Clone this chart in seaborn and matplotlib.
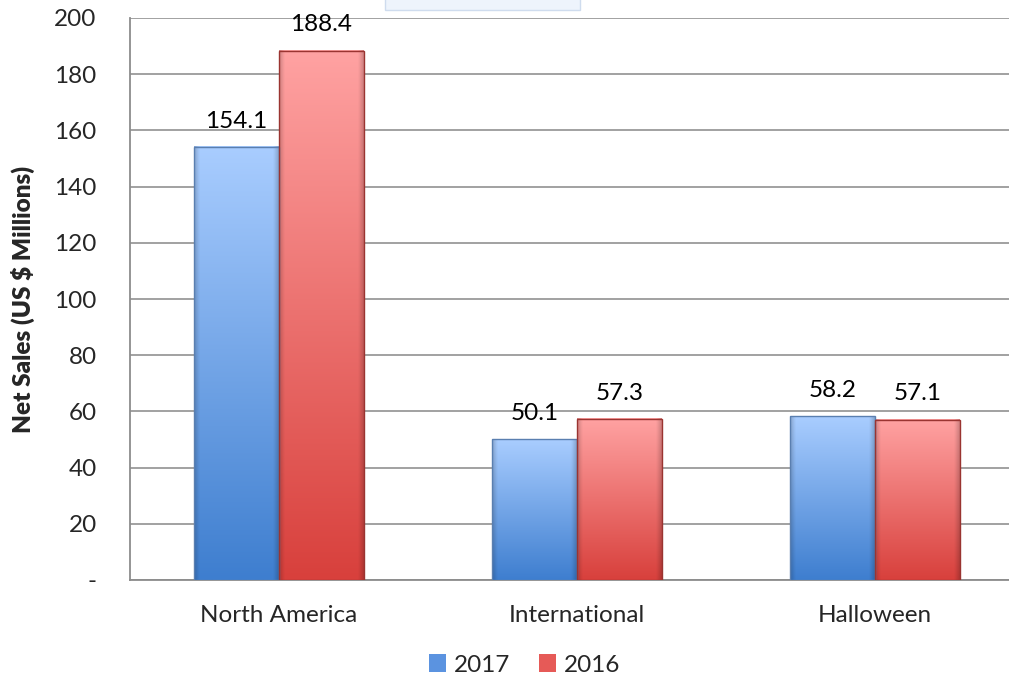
import numpy as np
import pandas as pd
import matplotlib
matplotlib.use("Agg")
import matplotlib.pyplot as plt
import seaborn as sns
from matplotlib.patches import Rectangle
from matplotlib.ticker import FuncFormatter, MultipleLocator

categories = ["North America", "International", "Halloween"]
years = ["2017", "2016"]
sales_2017 = [154.1, 50.1, 58.2]
sales_2016 = [188.4, 57.3, 57.1]

df = pd.DataFrame({
    "Segment": categories * 2,
    "Year": [years[0]] * 3 + [years[1]] * 3,
    "Sales": sales_2017 + sales_2016,
})

sns.set_theme(style="white")
plt.rcParams["font.family"] = ["Lato", "DejaVu Sans"]
FS = 17.5

fig = plt.figure(figsize=(10.09, 6.84), dpi=100)
ax = fig.add_axes([130 / 1009, 1 - 580 / 684, 894 / 1009, 562 / 684])

palette = {"2017": "#5b93e0", "2016": "#e65a57"}
sns.barplot(data=df, x="Segment", y="Sales", hue="Year", hue_order=years,
            order=categories, palette=palette, width=0.57, ax=ax,
            edgecolor="none", linewidth=0, legend=True, zorder=3)

grad_colors = {
    "2017": ("#a9cdff", "#3e7ecf", "#5a7fb0"),
    "2016": ("#ffa2a2", "#d8403c", "#9a3431"),
}

bars = [p for p in ax.patches if p.get_height() > 0]
nb = len(categories)
for i, p in enumerate(bars):
    yr = years[i // nb]
    top_c, bot_c, edge_c = grad_colors[yr]
    x0, w, h = p.get_x(), p.get_width(), p.get_height()
    t = np.array(matplotlib.colors.to_rgb(top_c))
    b = np.array(matplotlib.colors.to_rgb(bot_c))
    ny, nx = 200, 60
    v = np.linspace(0, 1, ny)[:, None, None]
    img = t * (1 - v) + b * v
    img = np.repeat(img, nx, axis=1)
    xs = np.linspace(0, 1, nx)
    edge = np.clip(1 - np.minimum(xs, 1 - xs) / 0.06, 0, 1)[None, :, None]
    img = img * (1 - 0.18 * edge)
    ax.imshow(img, extent=[x0, x0 + w, 0, h], origin="upper", aspect="auto",
              zorder=3, clip_path=p, clip_on=True, interpolation="bilinear")
    p.set_facecolor("none")
    p.set_edgecolor(edge_c)
    p.set_linewidth(1.0)
    p.set_zorder(4)
    val = sales_2017[i % nb] if yr == "2017" else sales_2016[i % nb]
    ax.annotate(f"{val:.1f}", (x0 + w / 2, h), xytext=(0, 11),
                textcoords="offset points", ha="center", va="bottom",
                fontsize=FS, color="#000000", zorder=5)

ax.set_xlim(-0.5, 2.5)
ax.set_ylim(0, 200)
ax.yaxis.set_major_locator(MultipleLocator(20))
ax.yaxis.set_major_formatter(FuncFormatter(lambda v, _: "-" if v == 0 else f"{v:.0f}"))
ax.grid(axis="y", color="#9a9a9a", linewidth=1.3, zorder=0)
ax.set_axisbelow(True)

for s in ["top", "right"]:
    ax.spines[s].set_visible(False)
for s in ["left", "bottom"]:
    ax.spines[s].set_color("#8c8c8c")
    ax.spines[s].set_linewidth(1.3)

ax.set_xticks([0, 1, 2])
ax.set_xticklabels(categories, fontsize=FS)
ax.set_xticks([0.5, 1.5], minor=True)
ax.tick_params(axis="x", which="major", length=0, pad=18)
ax.tick_params(axis="x", which="minor", length=8, width=1.3, color="#8c8c8c", direction="out")
ax.tick_params(axis="y", which="major", length=8, width=1.3, color="#8c8c8c",
               direction="out", labelsize=FS, pad=16)
ax.set_xlabel("")
ax.set_ylabel("Net Sales (US $ Millions)", fontsize=FS, fontweight="heavy", labelpad=14)

leg = ax.get_legend()
handles = leg.legend_handles
leg.remove()
for hnd, yr in zip(handles, years):
    hnd.set_facecolor(palette[yr])
    hnd.set_edgecolor(grad_colors[yr][2])
fig.legend(handles, years, loc="center", bbox_to_anchor=(0.52, 1 - 665 / 684),
           ncol=2, frameon=False, fontsize=FS, handlelength=0.7, handleheight=0.7,
           handletextpad=0.3, columnspacing=1.2)

# faint title box cropped at the top
fig.patches.append(Rectangle((385 / 1009, 1 - 10 / 684), 195 / 1009, 20 / 684,
                             transform=fig.transFigure, facecolor="#eef4fc",
                             edgecolor="#cfdcee", linewidth=1, zorder=0))

fig.savefig("out.png", dpi=100)
